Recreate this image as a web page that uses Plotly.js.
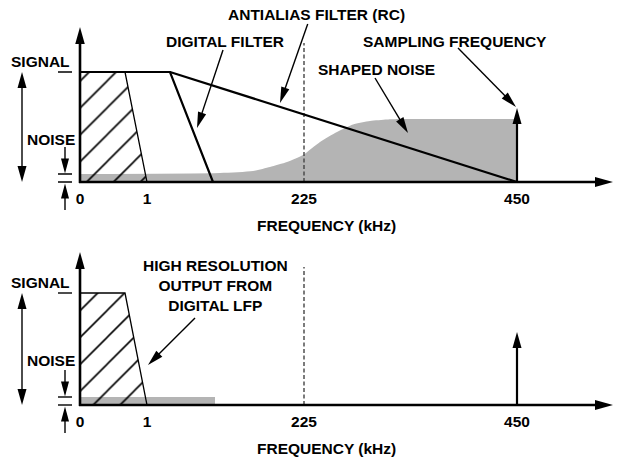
<!DOCTYPE html>
<html><head><meta charset="utf-8">
<script src="https://cdn.plot.ly/plotly-3.0.1.min.js"></script>
<style>html,body{margin:0;padding:0;background:#fff}#chart{width:620px;height:459px}</style>
</head><body><div id="chart"></div>
<script>
// ---------------- data (schematic spectrum units) ----------------
const tickLabels = ['0', '1', '225', '450'];          // frequency (kHz)
const tickPos = [0, 67, 224, 437];                    // schematic axis position of each tick
const signalLevel = [110, 112];                       // top panel, bottom panel
const passbandTopEdgeX = 45;                          // hatched passband: top-right corner
const digitalFilterX = [0, 90, 133];
const digitalFilterY = [110, 110, 0];
const antialiasX = [90, 437];
const antialiasY = [110, 0];
const shapedNoiseX = [0, 140, 173, 190, 207, 223, 240, 257, 273, 290, 307, 320, 437];
const shapedNoiseY = [8, 9, 11, 15, 20, 27, 40, 50, 57.5, 61, 62.5, 63, 63];
const outputNoiseX = [0, 135];
const outputNoiseY = [8, 8];
const noiseFloor = 8;
const samplingLevel = [74, 73];                       // sampling-frequency arrow height
const nyquistTop = [139, 138];                        // dashed line at 225 kHz

// ---------------- styling ----------------
const GRAY = '#b4b4b4';
const FONT = {family: '"Liberation Sans", Arial, sans-serif', size: 15.5, color: '#000', weight: 'bold'};
const H = 459;
const baseTopPx = 182, baseBotPx = 405;

function arrow(xr, yr, x0, y0, x1, y1, o) {
  o = o || {};
  const L = o.len || 15, Wd = o.wid || 8, lw = o.lw || 1.4, both = !!o.both;
  const dx = x1 - x0, dy = y1 - y0, d = Math.hypot(dx, dy);
  const ux = dx / d, uy = dy / d, nx = -uy, ny = ux;
  const head = (tx, ty, sx, sy) => {
    const bx = tx - sx * L, by = ty - sy * L;
    return {type: 'path', xref: xr, yref: yr, layer: 'above',
      path: 'M' + tx.toFixed(2) + ',' + ty.toFixed(2) +
            'L' + (bx + nx * Wd / 2).toFixed(2) + ',' + (by + ny * Wd / 2).toFixed(2) +
            'L' + (bx - nx * Wd / 2).toFixed(2) + ',' + (by - ny * Wd / 2).toFixed(2) + 'Z',
      fillcolor: '#000', line: {width: 0}};
  };
  const out = [];
  const sx0 = both ? x0 + ux * L * 0.7 : x0, sy0 = both ? y0 + uy * L * 0.7 : y0;
  out.push({type: 'line', xref: xr, yref: yr, layer: 'above', x0: sx0, y0: sy0,
    x1: x1 - ux * L * 0.7, y1: y1 - uy * L * 0.7, line: {color: '#000', width: lw}});
  out.push(head(x1, y1, ux, uy));
  if (both) out.push(head(x0, y0, -ux, -uy));
  return out;
}
function hline(xr, yr, x0, x1, y, w) {
  return {type: 'line', xref: xr, yref: yr, layer: 'above', x0: x0, x1: x1, y0: y, y1: y, line: {color: '#000', width: w || 1.4}};
}

const traces = [];
const shapes = [];
const annotations = [];

[['x', 'y', 0], ['x2', 'y2', 1]].forEach(([xr, yr, p]) => {
  const sig = signalLevel[p];
  // noise
  if (p === 0) {
    traces.push({x: shapedNoiseX, y: shapedNoiseY, xaxis: xr, yaxis: yr, type: 'scatter', mode: 'lines',
      line: {width: 0, shape: 'spline', smoothing: 0.6, color: GRAY}, fill: 'tozeroy', fillcolor: GRAY, hoverinfo: 'skip'});
  } else {
    traces.push({x: outputNoiseX, y: outputNoiseY, xaxis: xr, yaxis: yr, type: 'scatter', mode: 'lines',
      line: {width: 0, color: GRAY}, fill: 'tozeroy', fillcolor: GRAY, hoverinfo: 'skip'});
  }
  // hatched passband
  traces.push({x: [0, passbandTopEdgeX, tickPos[1], 0, 0], y: [sig, sig, 0, 0, sig], xaxis: xr, yaxis: yr,
    type: 'scatter', mode: 'lines', line: {color: '#000', width: 1.3}, fill: 'toself', fillcolor: 'rgba(255,255,255,0)',
    fillpattern: {shape: '/', size: 19, solidity: 0.085, fgcolor: '#000', bgcolor: 'rgba(255,255,255,0)'}, hoverinfo: 'skip'});
  // nyquist dashed line
  traces.push({x: [tickPos[2], tickPos[2]], y: [0, nyquistTop[p]], xaxis: xr, yaxis: yr, type: 'scatter', mode: 'lines',
    line: {color: '#444', width: 1.4, dash: '4px,2.5px'}, hoverinfo: 'skip'});
  if (p === 0) {
    traces.push({x: digitalFilterX, y: digitalFilterY, xaxis: xr, yaxis: yr, type: 'scatter', mode: 'lines',
      line: {color: '#000', width: 2.2}, hoverinfo: 'skip'});
    traces.push({x: antialiasX, y: antialiasY, xaxis: xr, yaxis: yr, type: 'scatter', mode: 'lines',
      line: {color: '#000', width: 2.2}, hoverinfo: 'skip'});
  }
  // sampling frequency arrow
  shapes.push(...arrow(xr, yr, tickPos[3], 0, tickPos[3], samplingLevel[p], {len: 16, wid: 9, lw: 2.2}));
  // axes
  shapes.push(...arrow(xr, yr, 0, -1, 0, p === 0 ? 155 : 153, {len: 17, wid: 9.5, lw: 2.6}));
  shapes.push(...arrow(xr, yr, -1, 0, 533, 0, {len: 18, wid: 10, lw: 2.6}));
  // left-hand level markers
  shapes.push(hline(xr, yr, -22, -8, sig));
  shapes.push(hline(xr, yr, -22, -8, noiseFloor));
  shapes.push(hline(xr, yr, -22, -8, 0));
  shapes.push(...arrow(xr, yr, -58, 0, -58, sig, {len: 16, wid: 9, lw: 1.4, both: true}));
  shapes.push(...arrow(xr, yr, -15, 35, -15, noiseFloor + 0.5, {len: 15, wid: 8, lw: 1.4}));
  shapes.push(...arrow(xr, yr, -15, -28, -15, -1.5, {len: 15, wid: 8, lw: 1.4}));
  annotations.push({xref: xr, yref: yr, x: -8, y: sig + 11, text: 'SIGNAL', showarrow: false, xanchor: 'right', yanchor: 'middle', font: FONT});
  annotations.push({xref: xr, yref: yr, x: -3, y: p === 0 ? 43 : 45, text: 'NOISE', showarrow: false, xanchor: 'right', yanchor: 'middle', font: FONT});
  annotations.push({xref: xr, yref: yr, x: 246.5, y: p === 0 ? -43.5 : -43, text: 'FREQUENCY (kHz)', showarrow: false, xanchor: 'center', yanchor: 'middle', font: FONT});
});

// top panel call-outs
annotations.push({xref: 'x', yref: 'y', x: 236, y: 168, text: 'ANTIALIAS FILTER (RC)', showarrow: false, font: FONT});
shapes.push(...arrow('x', 'y', 227.7, 158, 200, 79, {len: 16, wid: 8.5, lw: 1.4}));
annotations.push({xref: 'x', yref: 'y', x: 145, y: 141, text: 'DIGITAL FILTER', showarrow: false, font: FONT});
shapes.push(...arrow('x', 'y', 143, 132, 117, 54, {len: 16, wid: 8.5, lw: 1.4}));
annotations.push({xref: 'x', yref: 'y', x: 375, y: 141, text: 'SAMPLING FREQUENCY', showarrow: false, font: FONT});
shapes.push(...arrow('x', 'y', 378, 134, 436, 75, {len: 16, wid: 8.5, lw: 1.4}));
annotations.push({xref: 'x', yref: 'y', x: 296, y: 113, text: 'SHAPED NOISE', showarrow: false, font: FONT});
shapes.push(...arrow('x', 'y', 295, 104, 328, 49, {len: 16, wid: 8.5, lw: 1.4}));
// bottom panel call-out
annotations.push({xref: 'x2', yref: 'y2', x: 135, y: 120, text: 'HIGH RESOLUTION<br>OUTPUT FROM<br>DIGITAL LFP', showarrow: false, align: 'center', font: FONT});
shapes.push(...arrow('x2', 'y2', 115, 87, 68, 40, {len: 16, wid: 8.5, lw: 1.4}));

const xBase = {range: [-80, 540], tickvals: tickPos, ticktext: tickLabels, ticks: 'outside', ticklen: 2,
  tickcolor: 'rgba(0,0,0,0)', showgrid: false, zeroline: false, showline: false, tickfont: FONT,
  fixedrange: true, automargin: false, anchor: 'free'};
const layout = {
  width: 620, height: 459, margin: {l: 0, r: 0, t: 0, b: 0, pad: 0},
  paper_bgcolor: '#fff', plot_bgcolor: 'rgba(0,0,0,0)', showlegend: false,
  xaxis: Object.assign({}, xBase, {domain: [0, 1], position: 1 - baseTopPx / H}),
  xaxis2: Object.assign({}, xBase, {domain: [0, 1], position: 1 - baseBotPx / H}),
  yaxis: {domain: [0.5, 1], range: [baseTopPx - H / 2, baseTopPx], visible: false, fixedrange: true},
  yaxis2: {domain: [0, 0.5], range: [-(H - baseBotPx), baseBotPx - H / 2], visible: false, fixedrange: true},
  shapes: shapes, annotations: annotations
};
Plotly.newPlot('chart', traces, layout, {staticPlot: true, displayModeBar: false});
</script>
</body></html>
